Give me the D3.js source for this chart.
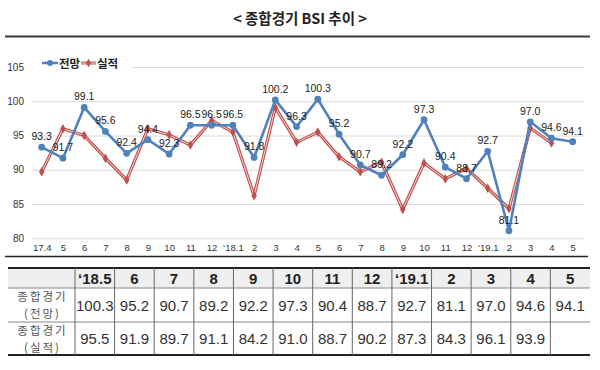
<!DOCTYPE html>
<html><head><meta charset="utf-8">
<script src="https://cdn.jsdelivr.net/npm/d3@7"></script>
<style>body{margin:0;background:#fff}svg{display:block}</style>
</head><body><svg id="c" width="600" height="370"></svg>
<script>
// ---- data ----
const months = ["17.4","5","6","7","8","9","10","11","12","‘18.1","2","3","4","5","6","7","8","9","10","11","12","‘19.1","2","3","4","5"];
const forecast = [93.3,91.7,99.1,95.6,92.4,94.4,92.3,96.5,96.5,96.5,91.8,100.2,96.3,100.3,95.2,90.7,89.2,92.2,97.3,90.4,88.7,92.7,81.1,97.0,94.6,94.1];
const actual = [89.7,96.0,95.0,91.7,88.5,96.0,95.1,93.6,97.2,95.5,86.2,99.1,94.0,95.5,91.9,89.7,91.1,84.2,91.0,88.7,90.2,87.3,84.3,96.1,93.9,null];
const yTicks = [80,85,90,95,100,105];
const seriesNames = ["전망","실적"];
const tableMonths = ["‘18.5","6","7","8","9","10","11","12","‘19.1","2","3","4","5"];
const tableForecast = [100.3,95.2,90.7,89.2,92.2,97.3,90.4,88.7,92.7,81.1,97.0,94.6,94.1];
const tableActual = [95.5,91.9,89.7,91.1,84.2,91.0,88.7,90.2,87.3,84.3,96.1,93.9,null];
const rowLabels = [["종합경기","(전망)"],["종합경기","(실적)"]];
const title = "< 종합경기 BSI 추이 >";

// ---- styles ----
const BLUE = "#4F81BD", RED = "#C0504D";
const NUM = "'Liberation Sans', Arial, sans-serif";
const KR = "'Noto Sans CJK KR', 'Noto Sans', sans-serif";

const svg = d3.select("#c");

// title
svg.append("text").attr("x", 300).attr("y", 24).attr("text-anchor","middle")
  .attr("font-family", KR).attr("font-weight","bold").attr("font-size", 14.5)
  .attr("fill","#222").text(title);
svg.append("line").attr("x1",5).attr("x2",590).attr("y1",36.5).attr("y2",36.5)
  .attr("stroke","#3a3a3a").attr("stroke-width",2);

// scales
const x = d3.scalePoint().domain(d3.range(months.length)).range([41.7, 572.7]);
const y = d3.scaleLinear().domain([80,105]).range([238.3, 67]);

// y axis + grid
const gy = svg.append("g").attr("transform","translate(32,0)")
  .call(d3.axisLeft(y).tickValues(yTicks).tickSize(-552).tickPadding(8));
gy.select(".domain").remove();
gy.selectAll(".tick line").attr("stroke","#d9d9d9").attr("stroke-width",1);
gy.selectAll(".tick text").attr("font-family",NUM).attr("font-size",10).attr("fill","#333");

// x axis labels
const gx = svg.append("g").attr("transform","translate(0,241)")
  .call(d3.axisBottom(x).tickFormat(i => months[i]).tickSize(0).tickPadding(3));
gx.select(".domain").remove();
gx.selectAll(".tick text").attr("font-family",NUM).attr("font-size",9.5).attr("fill","#333");

// bottom frame line
svg.append("line").attr("x1",5).attr("x2",588).attr("y1",256.5).attr("y2",256.5)
  .attr("stroke","#222").attr("stroke-width",1.5);

// legend (white box hides gridline)
const lg = svg.append("g");
lg.append("rect").attr("x",33).attr("y",55).attr("width",100).attr("height",17).attr("fill","#fff");
lg.append("line").attr("x1",42).attr("x2",58).attr("y1",63).attr("y2",63).attr("stroke",BLUE).attr("stroke-width",2.5);
lg.append("circle").attr("cx",50).attr("cy",63).attr("r",3).attr("fill",BLUE);
lg.append("text").attr("x",59).attr("y",67.5).attr("font-family",KR).attr("font-weight","bold").attr("font-size",11.5).attr("fill","#222").text(seriesNames[0]);
lg.append("line").attr("x1",81).attr("x2",96).attr("y1",63).attr("y2",63).attr("stroke",RED).attr("stroke-width",3);
lg.append("line").attr("x1",81).attr("x2",96).attr("y1",63).attr("y2",63).attr("stroke","#f3d6d5").attr("stroke-width",1);
lg.append("path").attr("d", d3.symbol(d3.symbolDiamond, 22)()).attr("transform","translate(88.5,63)").attr("fill",RED);
lg.append("text").attr("x",97).attr("y",67.5).attr("font-family",KR).attr("font-weight","bold").attr("font-size",11.5).attr("fill","#222").text(seriesNames[1]);

// actual line (double-line look)
const lineA = d3.line().defined(d => d != null).x((d,i) => x(i)).y(d => y(d));
svg.append("path").datum(actual).attr("d", lineA).attr("fill","none").attr("stroke",RED).attr("stroke-width",3.2).attr("stroke-linejoin","round");
svg.append("path").datum(actual).attr("d", lineA).attr("fill","none").attr("stroke","#f3d6d5").attr("stroke-width",1).attr("stroke-linejoin","round");
svg.append("g").selectAll("path").data(actual.map((v,i)=>({v,i})).filter(d=>d.v!=null)).join("path")
  .attr("d", d3.symbol(d3.symbolDiamond, 26)())
  .attr("transform", d => `translate(${x(d.i)},${y(d.v)})`).attr("fill",RED);

// forecast line
const lineF = d3.line().x((d,i) => x(i)).y(d => y(d));
svg.append("path").datum(forecast).attr("d", lineF).attr("fill","none").attr("stroke",BLUE).attr("stroke-width",2.6).attr("stroke-linejoin","round");
svg.append("g").selectAll("circle").data(forecast).join("circle")
  .attr("cx",(d,i)=>x(i)).attr("cy",d=>y(d)).attr("r",3.4).attr("fill",BLUE);

// forecast labels
svg.append("g").selectAll("text").data(forecast).join("text")
  .attr("x",(d,i)=>x(i)).attr("y",d=>y(d)-7).attr("text-anchor","middle")
  .attr("font-family",NUM).attr("font-size",10.5).attr("fill","#222")
  .text(d => d.toFixed(1));

// ---- table ----
const tTop = 268, hRow = 20, r1 = 34, r2 = 33;
const tLeft = 8, tRight = 590, firstW = 75;
const cx = d3.scaleBand().domain(d3.range(tableMonths.length)).range([firstW, tRight]);
const tb = svg.append("g");
tb.append("rect").attr("x",tLeft).attr("y",tTop).attr("width",tRight-tLeft).attr("height",hRow).attr("fill","#efefef");
// horizontal lines
tb.append("line").attr("x1",tLeft).attr("x2",tRight).attr("y1",tTop+hRow).attr("y2",tTop+hRow).attr("stroke","#888").attr("stroke-width",1);
tb.append("line").attr("x1",tLeft).attr("x2",tRight).attr("y1",tTop+hRow+r1).attr("y2",tTop+hRow+r1).attr("stroke","#888").attr("stroke-width",1);
tb.append("line").attr("x1",tLeft).attr("x2",tRight).attr("y1",tTop).attr("y2",tTop).attr("stroke","#222").attr("stroke-width",2);
tb.append("line").attr("x1",tLeft).attr("x2",tRight).attr("y1",tTop+hRow+r1+r2).attr("y2",tTop+hRow+r1+r2).attr("stroke","#222").attr("stroke-width",2);
// vertical lines
tb.selectAll("line.v").data(d3.range(tableMonths.length)).join("line").attr("class","v")
  .attr("x1",i=>cx(i)).attr("x2",i=>cx(i)).attr("y1",tTop).attr("y2",tTop+hRow+r1+r2)
  .attr("stroke","#666").attr("stroke-width",1);
// header
tb.selectAll("text.h").data(tableMonths).join("text").attr("class","h")
  .attr("x",(d,i)=>cx(i)+cx.bandwidth()/2).attr("y",tTop+15.5).attr("text-anchor","middle")
  .attr("font-family",NUM).attr("font-weight","bold").attr("font-size",15).attr("fill","#222").text(d=>d);
// values
[[tableForecast, tTop+hRow+r1/2+5.5],[tableActual, tTop+hRow+r1+r2/2+5.5]].forEach(([arr,yy])=>{
  tb.append("g").selectAll("text").data(arr).join("text")
    .attr("x",(d,i)=>cx(i)+cx.bandwidth()/2).attr("y",yy).attr("text-anchor","middle")
    .attr("font-family",NUM).attr("font-size",15).attr("fill","#333")
    .text(d => d==null ? "" : d.toFixed(1));
});
// row labels
rowLabels.forEach((lab, k) => {
  const top = tTop + hRow + (k===0 ? 0 : r1);
  lab.forEach((s, j) => {
    tb.append("text").attr("x",(tLeft+firstW)/2 + 1).attr("y", top + 13 + j*16.5)
      .attr("text-anchor","middle").attr("font-family",KR).attr("font-size",11.5)
      .attr("letter-spacing", 2).attr("fill","#555").text(s);
  });
});
</script></body></html>
